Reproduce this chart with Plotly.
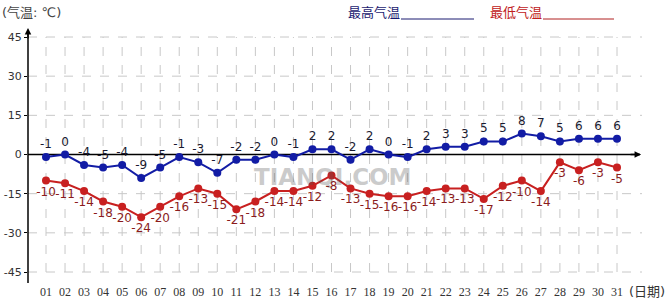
import plotly.graph_objects as go

days = list(range(1, 32))
day_labels = [f"{d:02d}" for d in days]
high = [-1, 0, -4, -5, -4, -9, -5, -1, -3, -7, -2, -2, 0, -1, 2, 2, -2, 2, 0, -1,
        2, 3, 3, 5, 5, 8, 7, 5, 6, 6, 6]
low = [-10, -11, -14, -18, -20, -24, -20, -16, -13, -15, -21, -18, -14, -14, -12, -8,
       -13, -15, -16, -16, -14, -13, -13, -17, -12, -10, -14, -3, -6, -3, -5]
y_ticks = [45, 30, 15, 0, -15, -30, -45]

W, H = 670, 300
L, R, T, B = 28, 642, 28, 283
px_per_day = 19.03
x0 = 1 - (46 - L) / px_per_day
x1 = 31 + (R - 617) / px_per_day
ppu = 235 / 90.0
y_top = 45 + (37 - T) / ppu
y_bot = -45 - (B - 272) / ppu

def px(xp):
    return (xp - L) / (R - L)

def py(yp):
    return (B - yp) / (B - T)

BLUE = "rgb(18,28,165)"
RED = "rgb(200,32,32)"
FONT = "DejaVu Sans, Noto Sans CJK SC"

fig = go.Figure()

fig.add_trace(go.Scatter(
    x=days, y=high, mode="lines+markers+text",
    line=dict(color=BLUE, width=2),
    marker=dict(color=BLUE, size=8),
    text=[str(v) for v in high], textposition="top center",
    textfont=dict(color="#1a1a30", size=12, family=FONT),
    cliponaxis=False, hoverinfo="skip", showlegend=False))

fig.add_trace(go.Scatter(
    x=days, y=low, mode="lines+markers+text",
    line=dict(color=RED, width=2),
    marker=dict(color=RED, size=8),
    text=[str(v) for v in low], textposition="bottom center",
    textfont=dict(color="#8b1c1c", size=12, family=FONT),
    cliponaxis=False, hoverinfo="skip", showlegend=False))

shapes = []
for d in days:
    shapes.append(dict(type="line", xref="x", yref="y", x0=d, x1=d, y0=-45, y1=45,
                       line=dict(color="#c8c8c8", width=1, dash="dash"), layer="below"))
for v in y_ticks:
    if v == 0:
        continue
    shapes.append(dict(type="line", xref="x", yref="y", x0=x0, x1=x1, y0=v, y1=v,
                       line=dict(color="#c8c8c8", width=1, dash="dash"), layer="below"))
# zero line
shapes.append(dict(type="line", xref="x", yref="y", x0=x0, x1=x1 - 0.1, y0=0, y1=0,
                   line=dict(color="black", width=1.5), layer="below"))
# y axis line
shapes.append(dict(type="line", xref="paper", yref="paper", x0=0, x1=0, y0=0, y1=py(30),
                   line=dict(color="black", width=1.5)))
# legend lines
shapes.append(dict(type="line", xref="paper", yref="paper", x0=px(401), x1=px(474),
                   y0=py(19), y1=py(19), line=dict(color="#1a1a70", width=1)))
shapes.append(dict(type="line", xref="paper", yref="paper", x0=px(543), x1=px(614),
                   y0=py(19), y1=py(19), line=dict(color="#b02020", width=1)))

annotations = [
    dict(xref="paper", yref="paper", x=px(0), y=py(12), text="(气温: ℃)", showarrow=False,
         xanchor="left", yanchor="middle", font=dict(size=13, color="#444", family=FONT)),
    dict(xref="paper", yref="paper", x=px(346), y=py(12), text="最高气温", showarrow=False,
         xanchor="left", yanchor="middle", font=dict(size=13, color="#1a1a70", family=FONT)),
    dict(xref="paper", yref="paper", x=px(488), y=py(12), text="最低气温", showarrow=False,
         xanchor="left", yanchor="middle", font=dict(size=13, color="#c02020", family=FONT)),
    dict(xref="paper", yref="paper", x=px(647), y=py(291), text="(日期)", showarrow=False,
         xanchor="center", yanchor="middle", font=dict(size=13, color="#333", family=FONT)),
    dict(xref="paper", yref="paper", x=px(332), y=py(177), text="<b>TIANQI.COM</b>",
         showarrow=False, xanchor="center", yanchor="middle", opacity=0.3,
         font=dict(size=23, color="#555", family="DejaVu Sans")),
    # y-axis arrow head
    dict(xref="paper", yref="paper", x=0, y=py(28), ax=0, ay=12, showarrow=True,
         arrowhead=2, arrowsize=1, arrowwidth=1.3, arrowcolor="black", text=""),
    # x-axis arrow head
    dict(xref="x", yref="y", x=x1 - 0.05, y=0, ax=-12, ay=0, showarrow=True,
         arrowhead=2, arrowsize=1, arrowwidth=1.3, arrowcolor="black", text=""),
]

fig.update_layout(
    width=W, height=H,
    margin=dict(l=L, r=W - R, t=T, b=H - B, autoexpand=False),
    paper_bgcolor="white", plot_bgcolor="white",
    font=dict(family=FONT, size=11, color="#333"),
    shapes=shapes, annotations=annotations,
    xaxis=dict(range=[x0, x1], tickvals=days, ticktext=day_labels, showgrid=False,
               zeroline=False, showline=False, ticks="", fixedrange=True, automargin=False,
               tickfont=dict(size=12, family="Liberation Serif, DejaVu Serif", color="#333")),
    yaxis=dict(range=[y_bot, y_top], tickvals=y_ticks, ticktext=[str(v) for v in y_ticks],
               showgrid=False, zeroline=False, showline=False, ticks="outside", ticklen=3,
               tickcolor="black", fixedrange=True, automargin=False,
               tickfont=dict(size=11, family=FONT, color="#333")),
)

fig.write_html("out.html")
